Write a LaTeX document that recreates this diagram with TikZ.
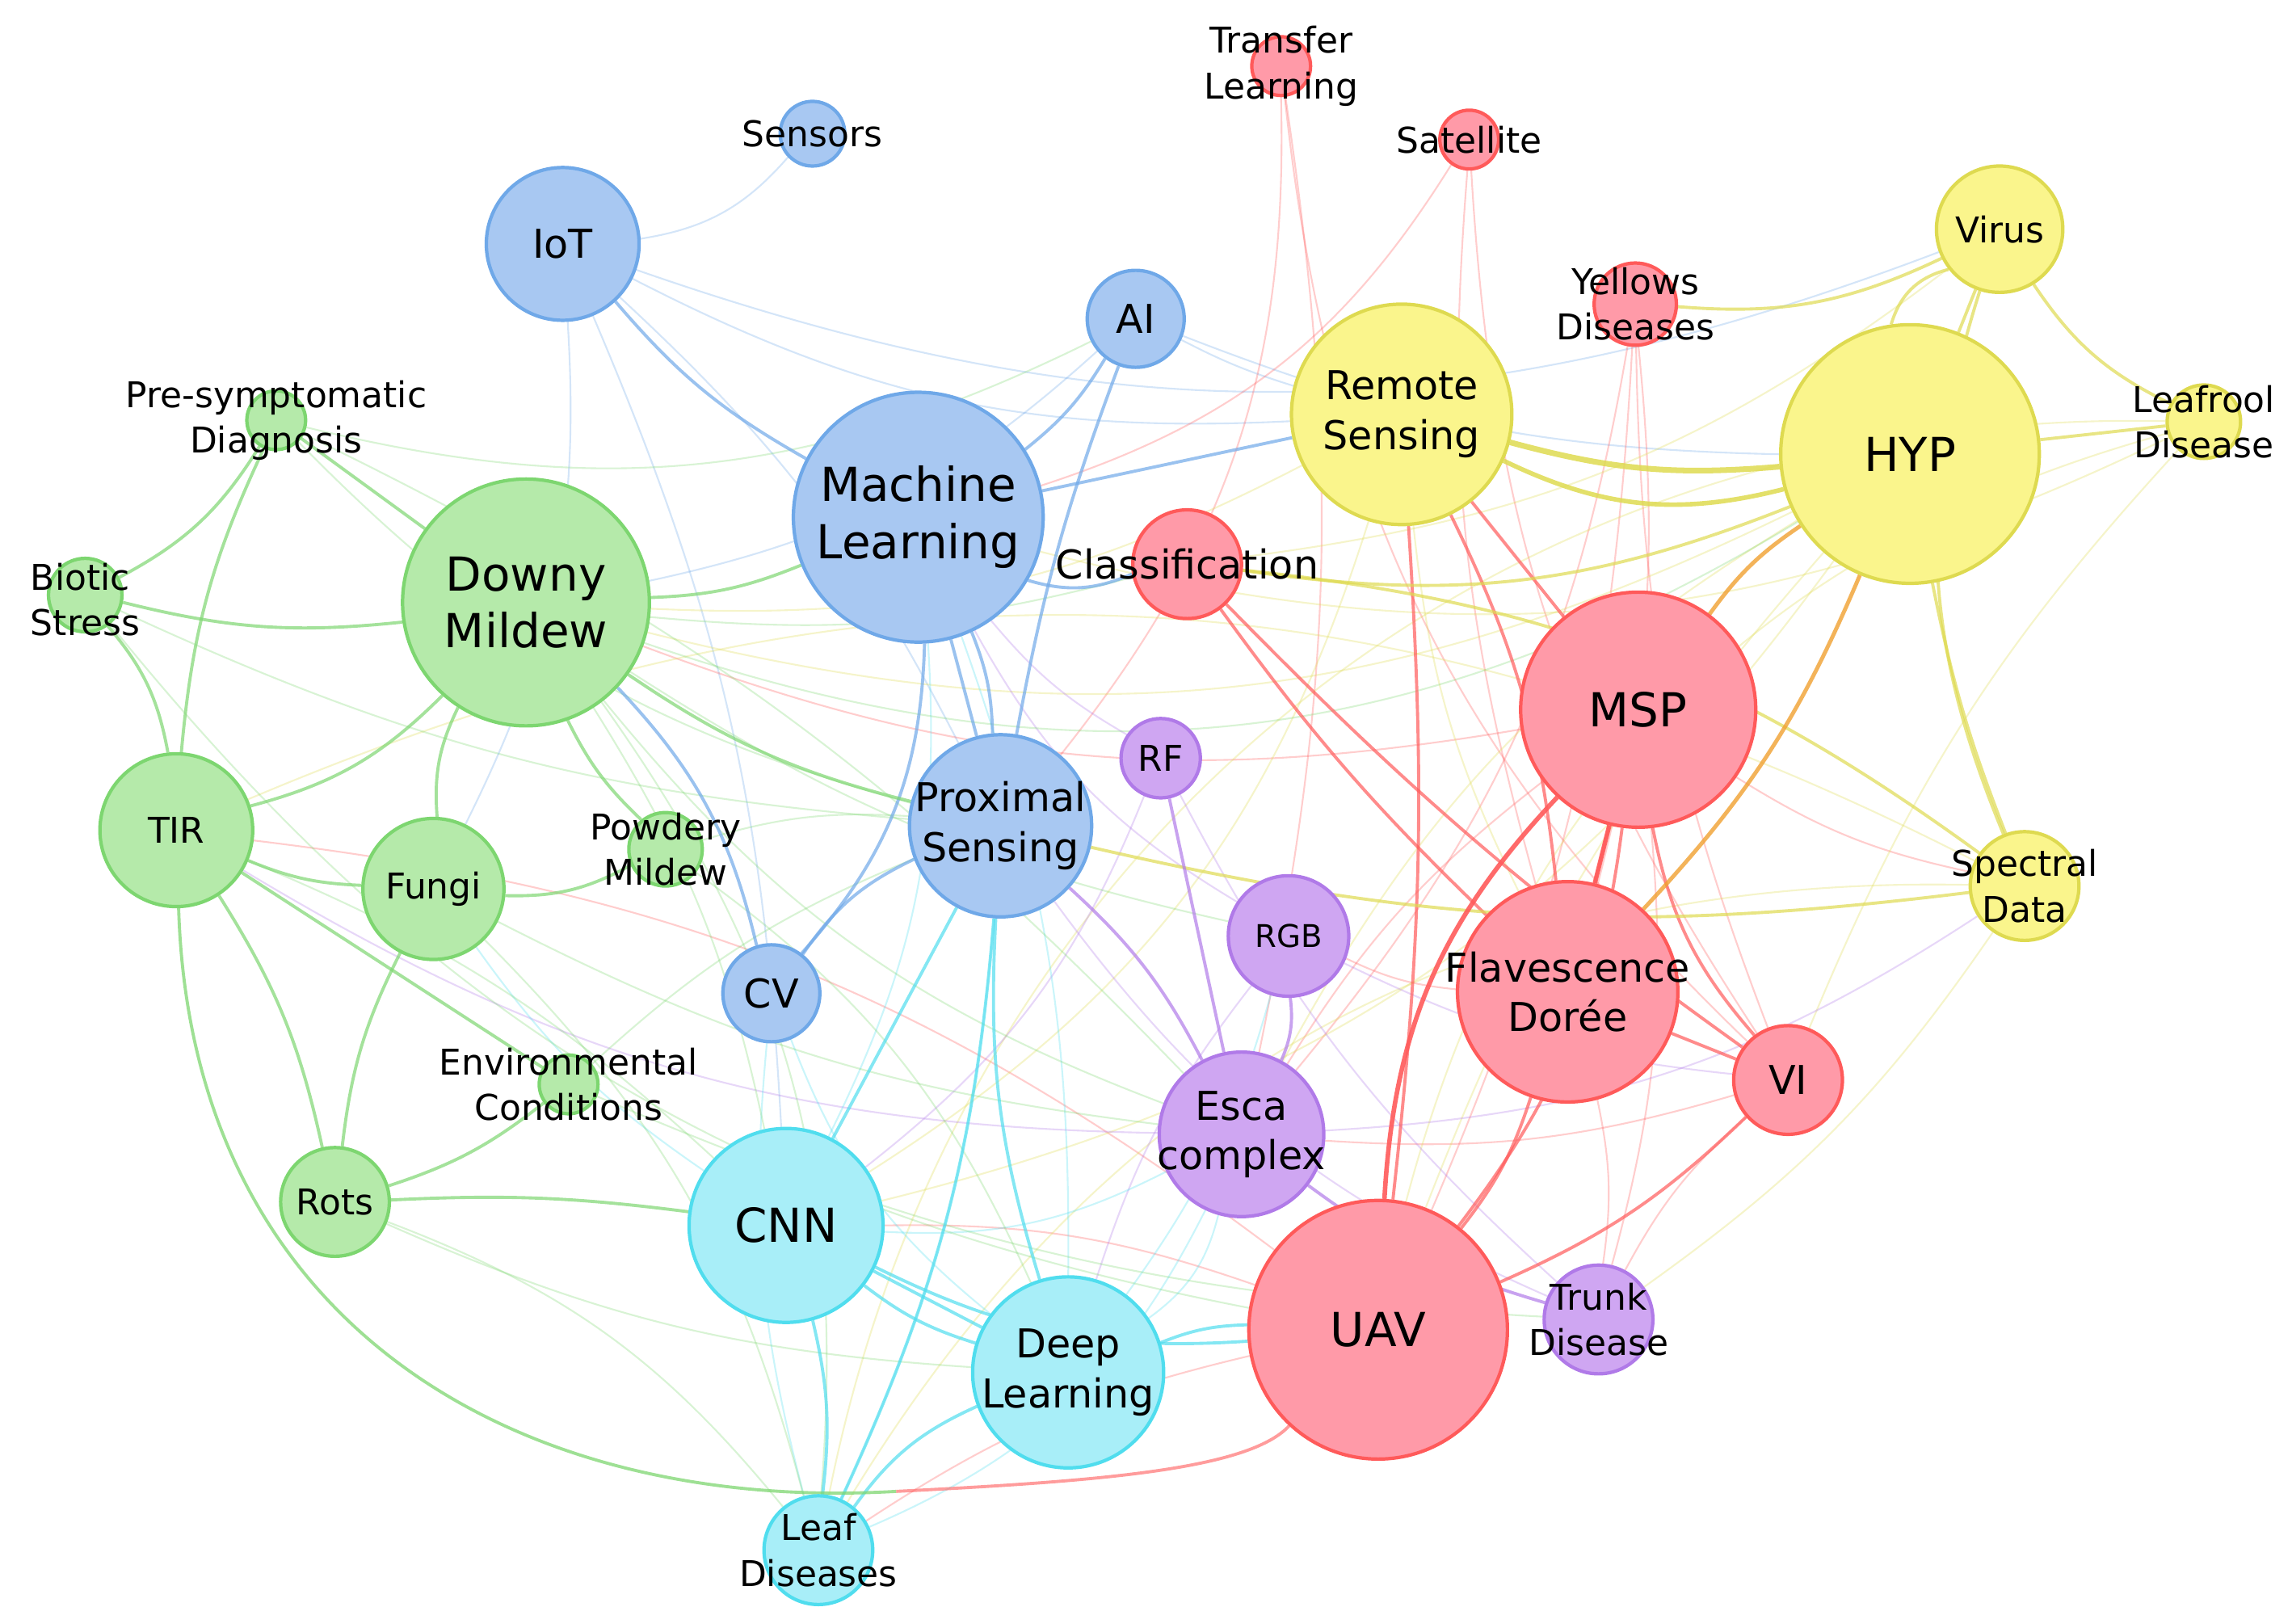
\documentclass[tikz,border=0pt]{standalone}
\usepackage{fontspec}
\setmainfont{DejaVu Sans}
\usetikzlibrary{backgrounds}
\definecolor{bF}{HTML}{A8C8F2}\definecolor{bS}{HTML}{6FA8E8}
\definecolor{gF}{HTML}{B5EAAA}\definecolor{gS}{HTML}{7DD670}
\definecolor{rF}{HTML}{FF9AA8}\definecolor{rS}{HTML}{FF5A5A}
\definecolor{yF}{HTML}{FAF58C}\definecolor{yS}{HTML}{DEDA50}
\definecolor{pF}{HTML}{CFA6F2}\definecolor{pS}{HTML}{B07AE8}
\definecolor{cF}{HTML}{A8EEF8}\definecolor{cS}{HTML}{50DDEE}
\definecolor{oS}{HTML}{F0A030}
\tikzset{
 nd/.style n args={2}{circle,fill=#1F,draw=#1S,line width=1.2pt,minimum size=#2*0.03638cm,inner sep=0pt},
 big/.style={font=\fontsize{16.5}{20}\selectfont,align=center},
 mid/.style={font=\fontsize{14}{17.5}\selectfont,align=center},
 sm/.style={font=\fontsize{12.5}{16}\selectfont,align=center},
}
\begin{document}
\begin{tikzpicture}[x=0.01819cm,y=-0.01819cm]
\useasboundingbox (0,0) rectangle (1560,1105);
\foreach \n/\c/\x/\y/\r in {sen/b/553/91/22, iot/b/383/166/52, ai/b/773/217/33, ml/b/625/352/85, ps/b/681/562/62, cv/b/525/676/33,
 tl/r/872/45/20, sat/r/1000/95/20, yd/r/1113/207/28, cls/r/808/384/37, msp/r/1115/483/80, fd/r/1067/675/75, vi/r/1217/735/37, uav/r/938/905/88,
 rs/y/954/282/75, hyp/y/1300/309/88, vir/y/1361/156/43, lr/y/1500/287/25, sd/y/1378/603/37,
 rf/p/790/516/27, rgb/p/877/637/41, esca/p/845/772/56, td/p/1088/898/37,
 cnn/c/535/834/66, dl/c/727/934/65, ld/c/557/1055/37,
 dm/g/358/410/84, pre/g/188/286/20, bio/g/58/405/25, tir/g/120/565/52, fun/g/295/605/48, pm/g/453/578/25, env/g/387/738/20, rot/g/228/818/37}
 {\node[nd={\c}{\r}] (\n) at (\x,\y) {};}
\begin{scope}[on background layer]
\foreach \a/\b/\c/\bb in {iot/sen/bS/-20, iot/rs/bS/-15, iot/vir/bS/-20, iot/ps/bS/10, iot/cnn/bS/10, ai/hyp/bS/-10, ai/dm/bS/15, ai/rs/bS/-5,
 tl/ps/rS/20, tl/esca/rS/10, tl/vi/rS/-20, sat/ml/rS/20, sat/fd/rS/-10, sat/vi/rS/-15, yd/fd/rS/10, yd/vi/rS/-10, yd/uav/rS/10, yd/esca/rS/15,
 msp/esca/rS/-10, msp/td/rS/10, msp/dm/rS/15, msp/sd/rS/-10, fd/td/rS/10, fd/rgb/rS/10, vi/td/rS/-10, vi/esca/rS/10, uav/cnn/rS/-10, uav/tir/rS/-15, uav/ld/rS/-10,
 rs/dm/yS/15, rs/cnn/yS/20, rs/fd/yS/-10, hyp/esca/yS/-15, hyp/dm/yS/20, hyp/uav/yS/-10, hyp/cnn/yS/20, lr/ml/yS/20, lr/uav/yS/-30, lr/vi/yS/-10, lr/ld/yS/-40, sd/tir/yS/-25, sd/td/yS/10, sd/ld/yS/-30, vir/cls/yS/15,
 rf/ml/pS/10, rf/td/pS/-10, rf/cnn/pS/15, rgb/dl/pS/-10, rgb/ml/pS/15, rgb/vi/pS/-10, esca/tir/pS/15, esca/sd/pS/-15, td/ps/pS/15,
 cnn/fun/cS/10, cnn/ml/cS/-15, cnn/esca/cS/-15, dl/ml/cS/-10, dl/rgb/cS/-10, dl/esca/cS/-20, dl/cv/cS/15, ld/ps/cS/-10, ld/esca/cS/-20, ld/cv/cS/10,
 dm/ld/gS/20, dm/rgb/gS/-10, dm/esca/gS/-15, dm/cls/gS/-10, dm/cnn/gS/10, dm/hyp/gS/-25, pre/ps/gS/-15, pre/esca/gS/10, bio/ps/gS/-10, bio/uav/gS/-20, tir/cnn/gS/10, fun/esca/gS/-10, fun/ld/gS/15, pm/ps/gS/10, pm/dl/gS/15, env/td/gS/-10, env/ps/gS/10, rot/dl/gS/-10, rot/ld/gS/15, pre/ai/gS/-20, iot/fun/bS/15}
 {\draw[draw=\c,opacity=0.3,line width=0.6pt] (\a) to[bend left=\bb] (\b);}
\foreach \a/\b/\c/\bb in {iot/ml/bS/-10, ai/ps/bS/-5, ml/ps/bS/0, ml/cv/bS/20, ml/ps/bS/10, cv/ps/bS/15, dm/cv/bS/15, ml/cls/bS/-20, ml/rs/bS/0, ml/ai/bS/-10,
 dm/ps/gS/-10, dm/ml/gS/-10, dm/tir/gS/15, dm/fun/gS/-15, dm/pm/gS/-10, dm/pre/gS/0, dm/bio/gS/10, tir/bio/gS/-15, tir/pre/gS/10, pre/bio/gS/15, tir/fun/gS/-10, tir/rot/gS/10, tir/env/gS/0, fun/rot/gS/-10, fun/pm/gS/-15, rot/env/gS/-10, rot/cnn/gS/5,
 cnn/dl/cS/0, cnn/dl/cS/-10, cnn/uav/cS/-15, dl/uav/cS/10, cnn/ps/cS/0, cnn/ld/cS/10, dl/ld/cS/-15, dl/ps/cS/10, ld/ps/cS/-10,
 msp/fd/rS/0, msp/uav/rS/15, msp/vi/rS/-15, msp/rs/rS/0, fd/rs/rS/-10, uav/rs/rS/-5, uav/vi/rS/-10, uav/fd/rS/-10, cls/vi/rS/-5, cls/fd/rS/-5, fd/vi/rS/0,
 hyp/vir/yS/0, vir/lr/yS/-15, vir/sd/yS/-20, vir/yd/yS/15, hyp/lr/yS/0, hyp/sd/yS/-5, hyp/cls/yS/15, sd/ps/yS/10, sd/cls/yS/-15, vir/hyp/yS/-30,
 esca/td/pS/-10, esca/rgb/pS/-15, esca/rf/pS/0, esca/ps/pS/-10}
 {\draw[draw=\c,opacity=0.7,line width=1.1pt] (\a) to[bend left=\bb] (\b);}
\draw[draw=gS,line width=1.1pt,opacity=0.75] (tir) .. controls (130,900) and (350,1030) .. (610,1015);
\draw[draw=rS,line width=1.1pt,opacity=0.6] (610,1015) .. controls (750,1008) and (850,1000) .. (uav);
\draw[draw=yS,line width=2pt,opacity=0.85] (rs) to[bend right=10] (hyp);
\draw[draw=yS,line width=1.6pt,opacity=0.85] (rs) to[bend right=20] (hyp);
\draw[draw=oS,line width=1.4pt,opacity=0.8] (hyp) to[bend right=10] (msp);
\draw[draw=oS,line width=1.4pt,opacity=0.8] (hyp) to[bend left=10] (fd);
\draw[draw=rS,line width=1.6pt,opacity=0.9] (msp) to[bend right=20] (uav);
\draw[draw=rS,line width=1.6pt,opacity=0.9] (msp) -- (fd);
\end{scope}
\node[sm] at (sen) {Sensors};
\node[mid] at (iot) {IoT};
\node[mid] at (ai) {AI};
\node[big] at (ml) {Machine\\Learning};
\node[mid] at (ps) {Proximal\\Sensing};
\node[mid] at (cv) {CV};
\node[sm] at (tl) {Transfer\\Learning};
\node[sm] at (sat) {Satellite};
\node[sm] at (yd) {Yellows\\Diseases};
\node[mid] at (cls) {Classification};
\node[big] at (msp) {MSP};
\node[mid] at (fd) {Flavescence\\Dorée};
\node[mid] at (vi) {VI};
\node[big] at (uav) {UAV};
\node[mid] at (rs) {Remote\\Sensing};
\node[big] at (hyp) {HYP};
\node[sm] at (vir) {Virus};
\node[sm] at (lr) {Leafrool\\Disease};
\node[sm] at (sd) {Spectral\\Data};
\node[sm] at (rf) {RF};
\node[sm,font=\fontsize{11}{14}\selectfont] at (rgb) {RGB};
\node[mid] at (esca) {Esca\\complex};
\node[sm] at (td) {Trunk\\Disease};
\node[big] at (cnn) {CNN};
\node[mid] at (dl) {Deep\\Learning};
\node[sm] at (ld) {Leaf\\Diseases};
\node[big] at (dm) {Downy\\Mildew};
\node[sm] at (pre) {Pre-symptomatic\\Diagnosis};
\node[sm,align=left] at (58,408) {Biotic\\Stress};
\node[sm] at (tir) {TIR};
\node[sm] at (fun) {Fungi};
\node[sm] at (pm) {Powdery\\Mildew};
\node[sm] at (env) {Environmental\\Conditions};
\node[sm] at (rot) {Rots};
\end{tikzpicture}
\end{document}
